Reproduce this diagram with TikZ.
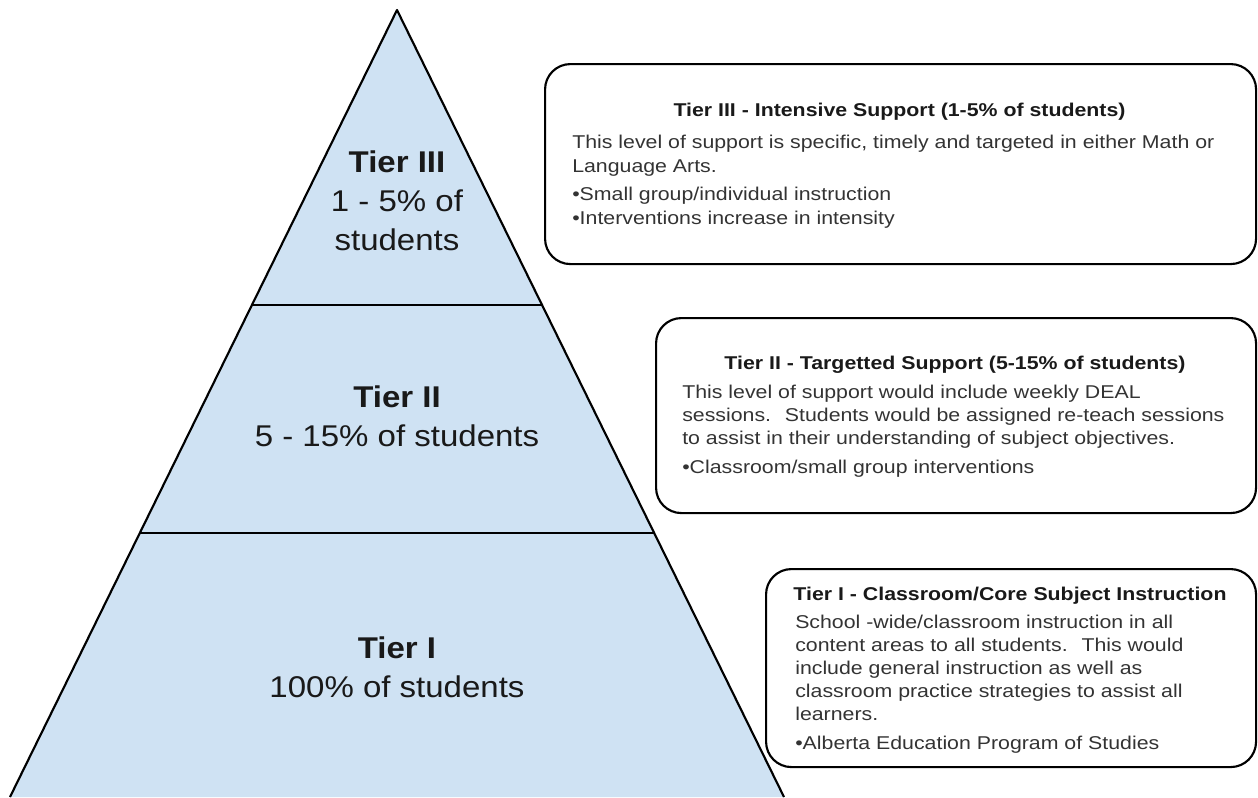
\documentclass[tikz,border=0pt]{standalone}
\usepackage{fontspec}
\setmainfont{Liberation Sans}
\newfontfamily\tierfont{Liberation Sans}[FakeStretch=1.1]
\newfontfamily\notefont{Liberation Sans}[FakeStretch=1.15]
\usetikzlibrary{positioning}
\definecolor{tierfill}{HTML}{CFE2F3}
\definecolor{notegray}{HTML}{333333}

\begin{document}
\begin{tikzpicture}
  [x=0.75pt, y=-0.75pt,
   tierline/.style={draw=black, line width=1.6pt, line join=round},
   tierlabel/.style={font=\tierfont\fontsize{22.5}{29.25}\selectfont, text=black!90, align=center, inner sep=0pt, anchor=base},
   notebox/.style={draw=black, line width=1.6pt, rounded corners=19pt, inner sep=0pt, anchor=north west},
   notehead/.style={font=\notefont\bfseries\fontsize{13.9}{17}\selectfont, text=black!90, inner sep=0pt, anchor=base},
   notebody/.style={font=\notefont\fontsize{13.9}{18}\selectfont, text=notegray, align=left, inner sep=0pt, anchor=base west}]

 \useasboundingbox (0,0) rectangle (1258,797);

 % pyramid
 \coordinate (apex) at (397,10);
 \coordinate (l32) at (252,305);
 \coordinate (r32) at (542,305);
 \coordinate (l21) at (140,533);
 \coordinate (r21) at (654,533);
 \coordinate (lb) at (10,797);
 \coordinate (rb) at (784,797);
 \fill[tierfill] (apex) -- (rb) -- (lb) -- cycle;
 \draw[tierline] (lb) -- (apex) -- (rb);
 \draw[tierline] (l32) -- (r32);
 \draw[tierline] (l21) -- (r21);

 % labels sit on the baseline of their last line
 \node[tierlabel] (tier3) at (397,250) {\bfseries Tier III\\1 - 5\% of\\students};
 \node[tierlabel] (tier2) at (397,446) {\bfseries Tier II\\5 - 15\% of students};
 \node[tierlabel] (tier1) at (397,697) {\bfseries Tier I\\100\% of students};

 % notes
 \node[notebox, minimum width=533.25pt, minimum height=150pt] (note3) at (544,63) {};
 \node[notehead] (note3head) at (899.5,116) {Tier III - Intensive Support (1-5\% of students)};
 \node[notebody] (note3text) at (572,224)
   {This level of support is specific, timely and targeted in either Math or\\
    Language Arts.\\[3pt]
    •Small group/individual instruction\\
    •Interventions increase in intensity};

 \node[notebox, minimum width=450pt, minimum height=146.25pt] (note2) at (655,317) {};
 \node[notehead] (note2head) at (955,369) {Tier II - Targetted Support (5-15\% of students)};
 \node[notebody, font=\notefont\fontsize{13.9}{17.4}\selectfont] (note2text) at (682,473)
   {This level of support would include weekly DEAL\\
    sessions. \ Students would be assigned re-teach sessions\\
    to assist in their understanding of subject objectives.\\[4pt]
    •Classroom/small group interventions};

 \node[notebox, minimum width=367.5pt, minimum height=148.5pt] (note1) at (765,568) {};
 \node[notehead] (note1head) at (1010,600) {Tier I - Classroom/Core Subject Instruction};
 \node[notebody, font=\notefont\fontsize{13.9}{17.25}\selectfont] (note1text) at (795,749)
   {School -wide/classroom instruction in all\\
    content areas to all students. \ This would\\
    include general instruction as well as\\
    classroom practice strategies to assist all\\
    learners.\\[4pt]
    •Alberta Education Program of Studies};
\end{tikzpicture}
\end{document}
